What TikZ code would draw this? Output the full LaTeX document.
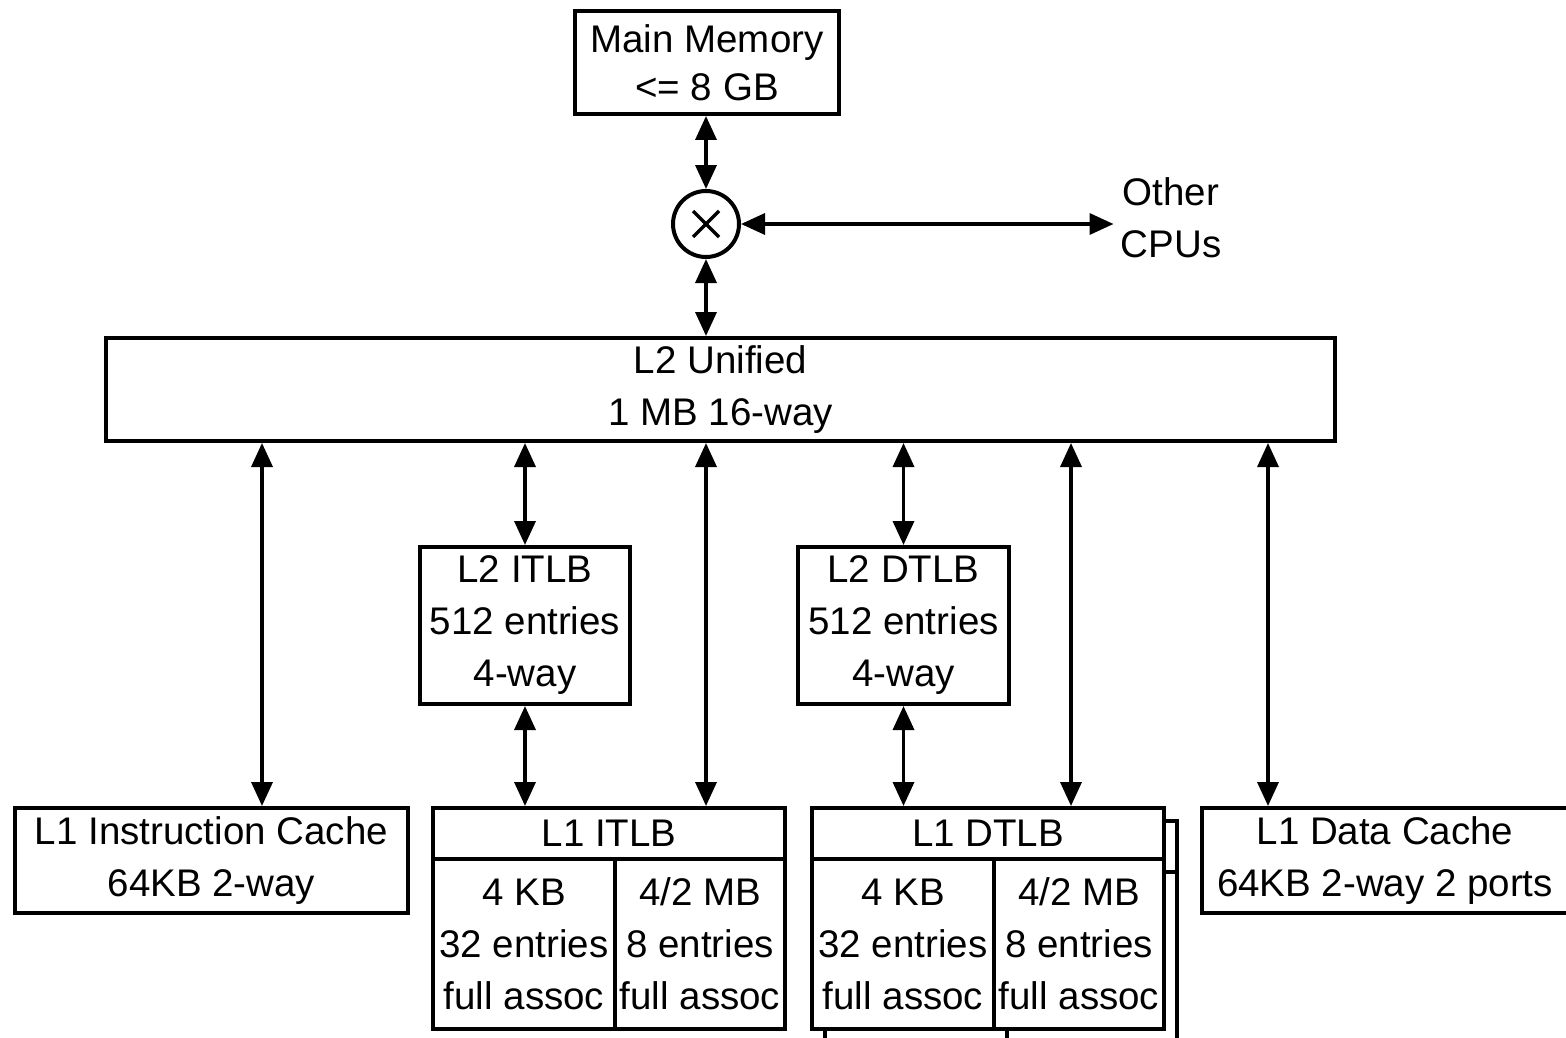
\documentclass[tikz,border=0pt]{standalone}
\usepackage{fontspec}
\setmainfont{Liberation Sans}
\usetikzlibrary{arrows.meta}
\begin{document}
\begin{tikzpicture}[x=1pt,y=-1pt,
  txt/.style={font=\fontsize{38.5}{52}\selectfont, align=center},
  box/.style={draw, line width=4pt, fill=white, inner sep=0pt, anchor=north west, txt},
  dbl/.style={line width=3.5pt, {Triangle[length=24pt 0 0,width=21pt 0 0]}-{Triangle[length=24pt 0 0,width=21pt 0 0]}},
]
\clip (0,0) rectangle (1566,1038);
\fill[white] (0,0) rectangle (1566,1038);

% top
\node[box, minimum width=264, minimum height=103] (mm) at (573,9) {Main Memory\\[-4pt]<= 8 GB};
\node[draw, circle, line width=4pt, minimum size=66, inner sep=0pt] (mux) at (706,224) {};
\draw[line width=3.5pt] (mux.center) ++(-13,-13) -- ++(26,26);
\draw[line width=3.5pt] (mux.center) ++(-13,13) -- ++(26,-26);
\node[txt, inner sep=0pt] (cpus) at (1171,218) {Other\\CPUs};

\node[box, minimum width=1229, minimum height=103] (l2) at (104,336) {L2 Unified\\1 MB 16-way};

% TLBs level 2
\node[box, minimum width=210, minimum height=157] (l2itlb) at (418,545) {L2 ITLB\\512 entries\\4-way};
\node[box, minimum width=211, minimum height=157] (l2dtlb) at (796,545) {L2 DTLB\\512 entries\\4-way};

% L1 caches
\node[box, minimum width=393, minimum height=105] (l1i) at (13,806) {L1 Instruction Cache\\64KB 2-way};
\node[box, minimum width=366, minimum height=105] (l1d) at (1200,806) {L1 Data Cache\\64KB 2-way 2 ports};

% L1 ITLB
\node[box, minimum width=352, minimum height=51] (l1itlb) at (431,806) {L1 ITLB};
\node[box, minimum width=182, minimum height=170] (l1itlbA) at (431,857) {4 KB\\32 entries\\full assoc};
\node[box, minimum width=170, minimum height=170] (l1itlbB) at (613,857) {4/2 MB\\8 entries\\full assoc};

% L1 DTLB shadow copy
\node[box, minimum width=352, minimum height=51] (sh) at (823,819) {};
\node[box, minimum width=182, minimum height=170] (shA) at (823,870) {};
\node[box, minimum width=170, minimum height=170] (shB) at (1005,870) {};

% L1 DTLB
\node[box, minimum width=352, minimum height=51] (l1dtlb) at (810,806) {L1 DTLB};
\node[box, minimum width=182, minimum height=170] (l1dtlbA) at (810,857) {4 KB\\32 entries\\full assoc};
\node[box, minimum width=170, minimum height=170] (l1dtlbB) at (992,857) {4/2 MB\\8 entries\\full assoc};

% column coordinates
\coordinate (c1) at (262,0);
\coordinate (c3) at (706,0);
\coordinate (c5) at (1071,0);
\coordinate (c6) at (1268,0);

% connectors
\draw[dbl] (mm.south -| mux.north) -- (mux.north);
\draw[dbl] (mux.south) -- (l2.north -| mux.south);
\draw[dbl, shorten >=7pt] (mux.east) -- (mux.east -| cpus.west);

\draw[dbl] (l2.south -| c1) -- (l1i.north -| c1);
\draw[dbl] (l2.south -| l2itlb.north) -- (l2itlb.north);
\draw[dbl] (l2.south -| c3) -- (l1itlb.north -| c3);
\draw[dbl] (l2.south -| l2dtlb.north) -- (l2dtlb.north);
\draw[dbl] (l2.south -| c5) -- (l1dtlb.north -| c5);
\draw[dbl] (l2.south -| c6) -- (l1d.north -| c6);

\draw[dbl] (l2itlb.south) -- (l1itlb.north -| l2itlb.south);
\draw[dbl] (l2dtlb.south) -- (l1dtlb.north -| l2dtlb.south);
\end{tikzpicture}
\end{document}
